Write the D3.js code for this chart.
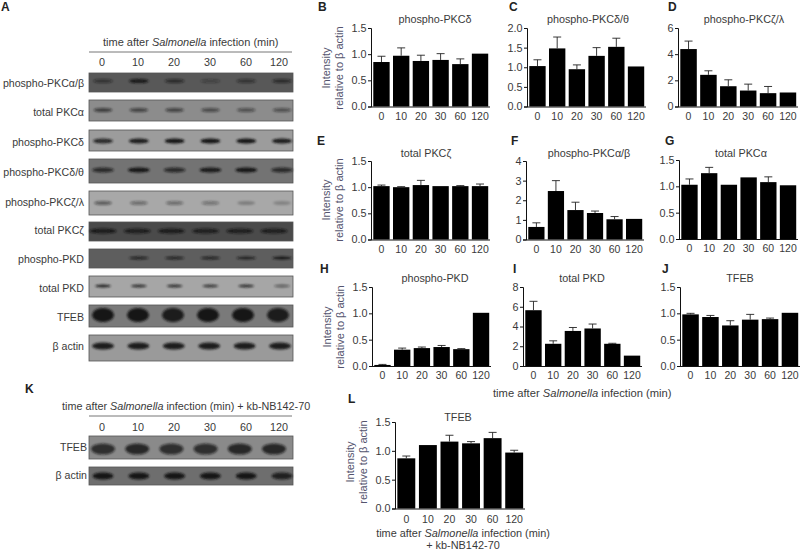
<!DOCTYPE html>
<html><head><meta charset="utf-8">
<script src="https://cdnjs.cloudflare.com/ajax/libs/d3/7.8.5/d3.min.js"></script>
<style>
html,body{margin:0;padding:0;background:#fff}
svg{display:block}
text{font-family:"Liberation Sans",Arial,sans-serif;fill:#3a3a3a}
.domain,.tick line{stroke:#111;stroke-width:1;shape-rendering:auto}
</style></head><body>
<svg id="c" width="800" height="551"></svg>
<script>
const minutes = ["0","10","20","30","60","120"];
const yLabelA = "Intensity", yLabelB = "relative to β actin";

// bar values and upper error-bar ends
const valB = [0.85,0.97,0.87,0.89,0.81,1.01], errB = [0.96,1.12,0.98,1.01,0.91,1.01];
const valC = [1.03,1.48,0.95,1.29,1.52,1.02], errC = [1.19,1.77,1.06,1.50,1.74,1.02];
const valD = [4.39,2.42,1.55,1.22,1.02,1.07], errD = [5.00,2.73,2.04,1.71,1.53,1.07];
const valE = [1.02,1.00,1.04,1.02,1.02,1.02], errE = [1.04,1.01,1.13,1.02,1.03,1.06];
const valF = [0.64,2.47,1.50,1.35,1.03,1.05], errF = [0.85,3.00,1.90,1.45,1.17,1.05];
const valG = [1.03,1.25,1.03,1.17,1.08,1.02], errG = [1.14,1.36,1.03,1.17,1.18,1.02];
const valH = [0.02,0.31,0.34,0.36,0.32,1.01], errH = [0.03,0.34,0.36,0.39,0.33,1.01];
const valI = [5.65,2.25,3.55,3.80,2.25,1.05], errI = [6.55,2.55,3.90,4.25,2.30,1.05];
const valJ = [0.98,0.93,0.77,0.88,0.89,1.01], errJ = [1.00,0.96,0.86,0.98,0.91,1.01];
const valL = [0.87,1.10,1.16,1.13,1.22,0.97], errL = [0.91,1.10,1.27,1.16,1.32,1.01];

const ticks15 = [0,0.5,1,1.5], ticks20 = [0,0.5,1,1.5,2], ticks6 = [0,2,4,6], ticks4 = [0,1,2,3,4], ticks8 = [0,2,4,6,8];

// estimated band strengths on the blots (0 to 1), per lane
const bandPa  = [0.55,0.95,0.65,0.35,0.55,0.65];
const bandTa  = [0.65,0.60,0.60,0.55,0.50,0.50];
const bandPd  = [0.85,0.95,1.00,1.00,1.00,0.95];
const bandPdt = [0.75,1.00,0.75,0.95,1.00,0.75];
const bandPz  = [0.50,0.40,0.40,0.35,0.25,0.22];
const bandTz  = [0.90,0.85,0.90,0.85,0.85,0.85];
const bandPk  = [0.00,0.80,0.80,0.80,0.85,1.00];
const bandTk  = [0.90,0.80,0.80,0.75,0.80,0.50];
const bandTf  = [1.00,1.00,0.95,1.00,1.00,0.95];
const bandAc  = [0.95,0.95,0.95,0.95,0.95,0.95];
const bandKtf = [0.75,0.80,0.75,0.75,0.80,0.80];
const bandKac = [1.00,1.00,1.00,1.00,1.00,0.90];

const svg = d3.select("#c");
const defs = svg.append("defs");
defs.append("filter").attr("id","bl").attr("x","-30%").attr("y","-100%").attr("width","160%").attr("height","300%")
  .append("feGaussianBlur").attr("stdDeviation",1);

// ---- blots
const laneX = d3.scalePoint().domain(minutes).range([102,282]);
function blot(label,labelX,labelY,top,bot,bg,vals,bandY,bandH,bandW,laneEnd){
  const lx = d3.scalePoint().domain(minutes).range([103,laneEnd||282]);
  svg.append("text").attr("x",labelX).attr("y",labelY).attr("text-anchor","end").attr("font-size",10.6).text(label);
  svg.append("rect").attr("x",89).attr("y",top).attr("width",204).attr("height",bot-top)
    .attr("fill",bg).attr("stroke","#555").attr("stroke-width",0.8);
  svg.append("g").attr("filter","url(#bl)").selectAll("ellipse").data(vals).join("ellipse")
    .attr("cx",(d,i)=>lx(minutes[i])).attr("cy",bandY)
    .attr("rx",bandW/2).attr("ry",bandH/2).attr("fill","#141414").attr("opacity",d=>d);
}
function header(text1,text2,text3,x,base,lineY,laneY,fs){
  const t = svg.append("text").attr("x",x).attr("y",base).attr("font-size",fs);
  t.append("tspan").text(text1);
  t.append("tspan").attr("font-style","italic").text(text2);
  t.append("tspan").text(text3);
  svg.append("line").attr("x1",89).attr("x2",292).attr("y1",lineY).attr("y2",lineY).attr("stroke","#666").attr("stroke-width",0.9);
  svg.append("g").selectAll("text").data(minutes).join("text")
    .attr("x",d=>laneX(d)+(d==="120"?-3:0)).attr("y",laneY).attr("text-anchor","middle").attr("font-size",10.8).text(d=>d);
}
header("time after ","Salmonella"," infection (min)",103,46,52,66,11);
blot("phospho-PKCα/β",84,87,73,92,"#585858",bandPa,81,4,20);
blot("total PKCα",84,116,100,121,"#8c8c8c",bandTa,110,4,19);
blot("phospho-PKCδ",84,146,130,151,"#9c9c9c",bandPd,141,5,20);
blot("phospho-PKCδ/θ",84,176,159,183,"#737373",bandPdt,170,5,22);
blot("phospho-PKCζ/λ",84,206,191,215,"#a8a8a8",bandPz,203,4,18);
blot("total PKCζ",84,234,222,241,"#4a4a4a",bandTz,231,5,27,274);
blot("phospho-PKD",84,263,249,268,"#5e5e5e",bandPk,258,3,20);
blot("total PKD",84,292,276,297,"#a6a6a6",bandTk,286,3,16);
blot("TFEB",84,321,305,327,"#7a7a7a",bandTf,315,14,22,278);
blot("β actin",84,350,335,361,"#9a9a9a",bandAc,346,7,22,280);
header("time after ","Salmonella"," infection (min) + kb-NB142-70",62,410,416,431,10.8);
blot("TFEB",87,451,436,459,"#8a8a8a",bandKtf,449,11,24,274);
blot("β actin",87,479,467,485,"#6e6e6e",bandKac,476,7,21);

// ---- bar panels
function panel(title,titleX,titleY,x0,x1,top,base,vals,errs,ticks,fmt,showY,xlabY,yCenter){
  const x = d3.scaleBand().domain(minutes).range([x0+1.5,x1]).paddingInner(0.17).paddingOuter(0.04);
  const y = d3.scaleLinear().domain([ticks[0],ticks[ticks.length-1]]).range([base,top]);
  const g = svg.append("g");
  g.append("g").selectAll("rect").data(vals).join("rect")
    .attr("x",(d,i)=>x(minutes[i])).attr("width",x.bandwidth())
    .attr("y",d=>y(d)).attr("height",d=>base-y(d)).attr("fill","#000");
  const er = g.append("g").selectAll("g").data(errs).join("g");
  const cx = i=>x(minutes[i])+x.bandwidth()/2;
  er.append("line").attr("x1",(d,i)=>cx(i)).attr("x2",(d,i)=>cx(i))
    .attr("y1",(d,i)=>y(vals[i])).attr("y2",d=>y(d)).attr("stroke","#222").attr("stroke-width",0.9);
  er.append("line").attr("x1",(d,i)=>cx(i)-4).attr("x2",(d,i)=>cx(i)+4)
    .attr("y1",d=>y(d)).attr("y2",d=>y(d)).attr("stroke","#222").attr("stroke-width",0.9)
    .attr("opacity",(d,i)=>d>vals[i]?1:0);
  const ay = g.append("g").attr("transform",`translate(${x0},0)`)
    .call(d3.axisLeft(y).tickValues(ticks).tickFormat(d3.format(fmt)).tickSize(3).tickPadding(1.5));
  ay.selectAll("text").attr("font-size",10.8).attr("font-family",null);
  const ax = g.append("g").attr("transform",`translate(0,${base})`)
    .call(d3.axisBottom(x).tickSize(0).tickPadding(xlabY).tickSizeOuter(0));
  ax.selectAll("text").attr("font-size",10.5).attr("font-family",null);
  ax.select(".domain").attr("d",`M${x0},0.5H${x1+1}`);
  g.append("text").attr("x",titleX).attr("y",titleY).attr("text-anchor","middle").attr("font-size",10.8).text(title);
  if(showY){
    const lx = x0-41;
    [[yLabelA,lx],[yLabelB,lx+13]].forEach(([s,px])=>{
      g.append("text").attr("transform",`translate(${px},${yCenter}) rotate(-90)`)
        .attr("text-anchor","middle").attr("font-size",11).style("fill","#54546e").text(s);
    });
  }
}
panel("phospho-PKCδ",435,23,371,489,28,106.5,valB,errB,ticks15,".1f",true,6,68);
panel("phospho-PKCδ/θ",588,23,527,645,28,106.5,valC,errC,ticks20,".1f",false,6,0);
panel("phospho-PKCζ/λ",744,23,678,797,28,106.5,valD,errD,ticks6,"d",false,6,0);
panel("total PKCζ",426,157,371,489,161,239.5,valE,errE,ticks15,".1f",true,6,200);
panel("phospho-PKCα/β",589,157,526,643,161,239.5,valF,errF,ticks4,"d",false,6,0);
panel("total PKCα",741,157,679,797,160,239,valG,errG,ticks15,".1f",false,6,0);
panel("phospho-PKD",435,282,372,490,287,366,valH,errH,ticks15,".1f",true,6,327);
panel("total PKD",582,282,523,641,287,366,valI,errI,ticks8,"d",false,6,0);
panel("TFEB",740,282,680,799,287,366,valJ,errJ,ticks15,".1f",false,6,0);
panel("TFEB",458,421,395,524,422,508.5,valL,errL,ticks15,".1f",true,7,462);

// ---- shared x-axis labels
const bt = svg.append("text").attr("x",493).attr("y",397).attr("font-size",11.2);
bt.append("tspan").text("time after ");
bt.append("tspan").attr("font-style","italic").text("Salmonella");
bt.append("tspan").text(" infection (min)");
const lt = svg.append("text").attr("x",463).attr("y",537).attr("text-anchor","middle").attr("font-size",10.9);
lt.append("tspan").text("time after ");
lt.append("tspan").attr("font-style","italic").text("Salmonella");
lt.append("tspan").text(" infection (min)");
svg.append("text").attr("x",463).attr("y",549).attr("text-anchor","middle").attr("font-size",10.9).text("+ kb-NB142-70");

// ---- panel letters
const letters = ["A","B","C","D","E","F","G","H","I","J","K","L"];
const letterX = [1,318,509,668,317,511,665,320,513,662,25,348];
const letterY = [11,11,11,11,145,145,145,273,273,273,393,403];
svg.append("g").selectAll("text").data(letters).join("text")
  .attr("x",(d,i)=>letterX[i]).attr("y",(d,i)=>letterY[i])
  .attr("font-size",12).attr("font-weight","bold").style("fill","#222").text(d=>d);
</script>
</body></html>
